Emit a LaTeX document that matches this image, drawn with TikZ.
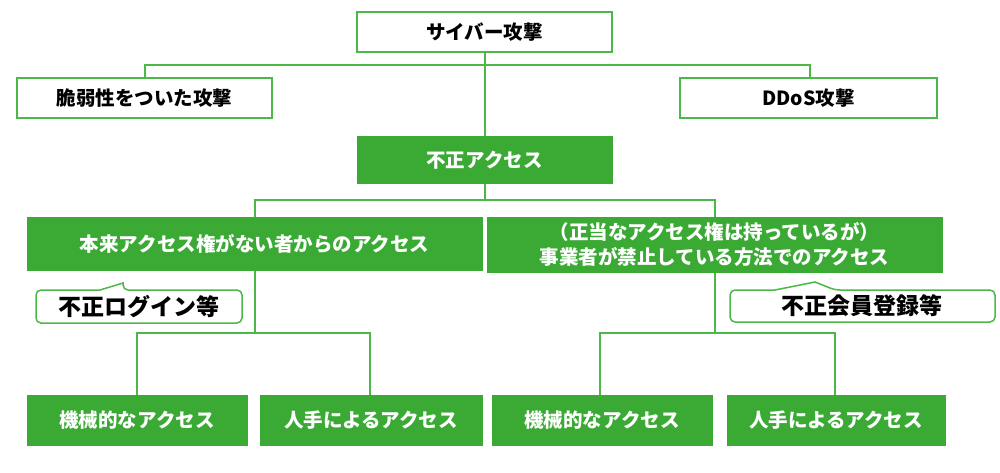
\documentclass[tikz,border=0pt]{standalone}
\usepackage{fontspec}
\setmainfont{Noto Sans CJK JP}
\definecolor{gr}{HTML}{3AAA35}
\definecolor{gl}{HTML}{4CB848}
\begin{document}
\begin{tikzpicture}[x=1pt,y=-1pt,
 wb/.style={draw=gl,line width=1.5pt,fill=white},
 gb/.style={draw=gr,line width=1pt,fill=gr},
 ln/.style={draw=gl,line width=1.5pt},
 co/.style={draw=gl,line width=1.5pt,fill=white}]
\useasboundingbox (0,0) rectangle (1000,473);
\newcommand\bx[6]{\path[#1] (#2,#3) rectangle (#4,#5); \node[font=\bfseries\fontsize{19.5}{25}\selectfont,align=center,#6] at ({(#2+#4)/2},{(#3+#5)/2})}
% connectors
\draw[ln] (485,52) -- (485,137);
\draw[ln] (145,78) -- (145,65) -- (810,65) -- (810,78);
\draw[ln] (485,183) -- (485,200);
\draw[ln] (255,217) -- (255,200) -- (715,200) -- (715,217);
\draw[ln] (255,270) -- (255,333);
\draw[ln] (137,395) -- (137,333) -- (370,333) -- (370,395);
\draw[ln] (715,272) -- (715,333);
\draw[ln] (600,395) -- (600,333) -- (835,333) -- (835,395);
% boxes
\bx{wb}{357}{12}{612}{52}{}(a){サイバー攻撃};
\bx{wb}{17}{78}{272}{118}{}(b){脆弱性をついた攻撃};
\bx{wb}{680}{78}{937}{118}{}(c){DDoS攻撃};
\bx{gb}{357}{137}{612}{183}{text=white}(d){不正アクセス};
\bx{gb}{27}{217}{482}{270}{text=white}(e){本来アクセス権がない者からのアクセス};
\bx{gb}{487}{217}{942}{272}{text=white}(f){（正当なアクセス権は持っているが）\\事業者が禁止している方法でのアクセス};
\bx{gb}{27}{395}{247}{445}{text=white}(g1){機械的なアクセス};
\bx{gb}{260}{395}{482}{445}{text=white}(g2){人手によるアクセス};
\bx{gb}{492}{395}{712}{445}{text=white}(g3){機械的なアクセス};
\bx{gb}{727}{395}{945}{445}{text=white}(g4){人手によるアクセス};
% callouts
\path[co] [rounded corners=5pt] (100,290) -- (36,290) -- (36,323) -- (242,323) -- (242,290) -- (123,290) [sharp corners] -- (123,283) -- (100,290);
\node[font=\bfseries\fontsize{23}{28}\selectfont] (h1) at (139,307) {不正ログイン等};
\path[co] [rounded corners=5pt] (775,290) -- (730,290) -- (730,322) -- (995,322) -- (995,290) -- (835,290) [sharp corners] -- (815,282) -- (775,290);
\node[font=\bfseries\fontsize{23}{28}\selectfont] (h2) at (862,306) {不正会員登録等};
\end{tikzpicture}
\end{document}
